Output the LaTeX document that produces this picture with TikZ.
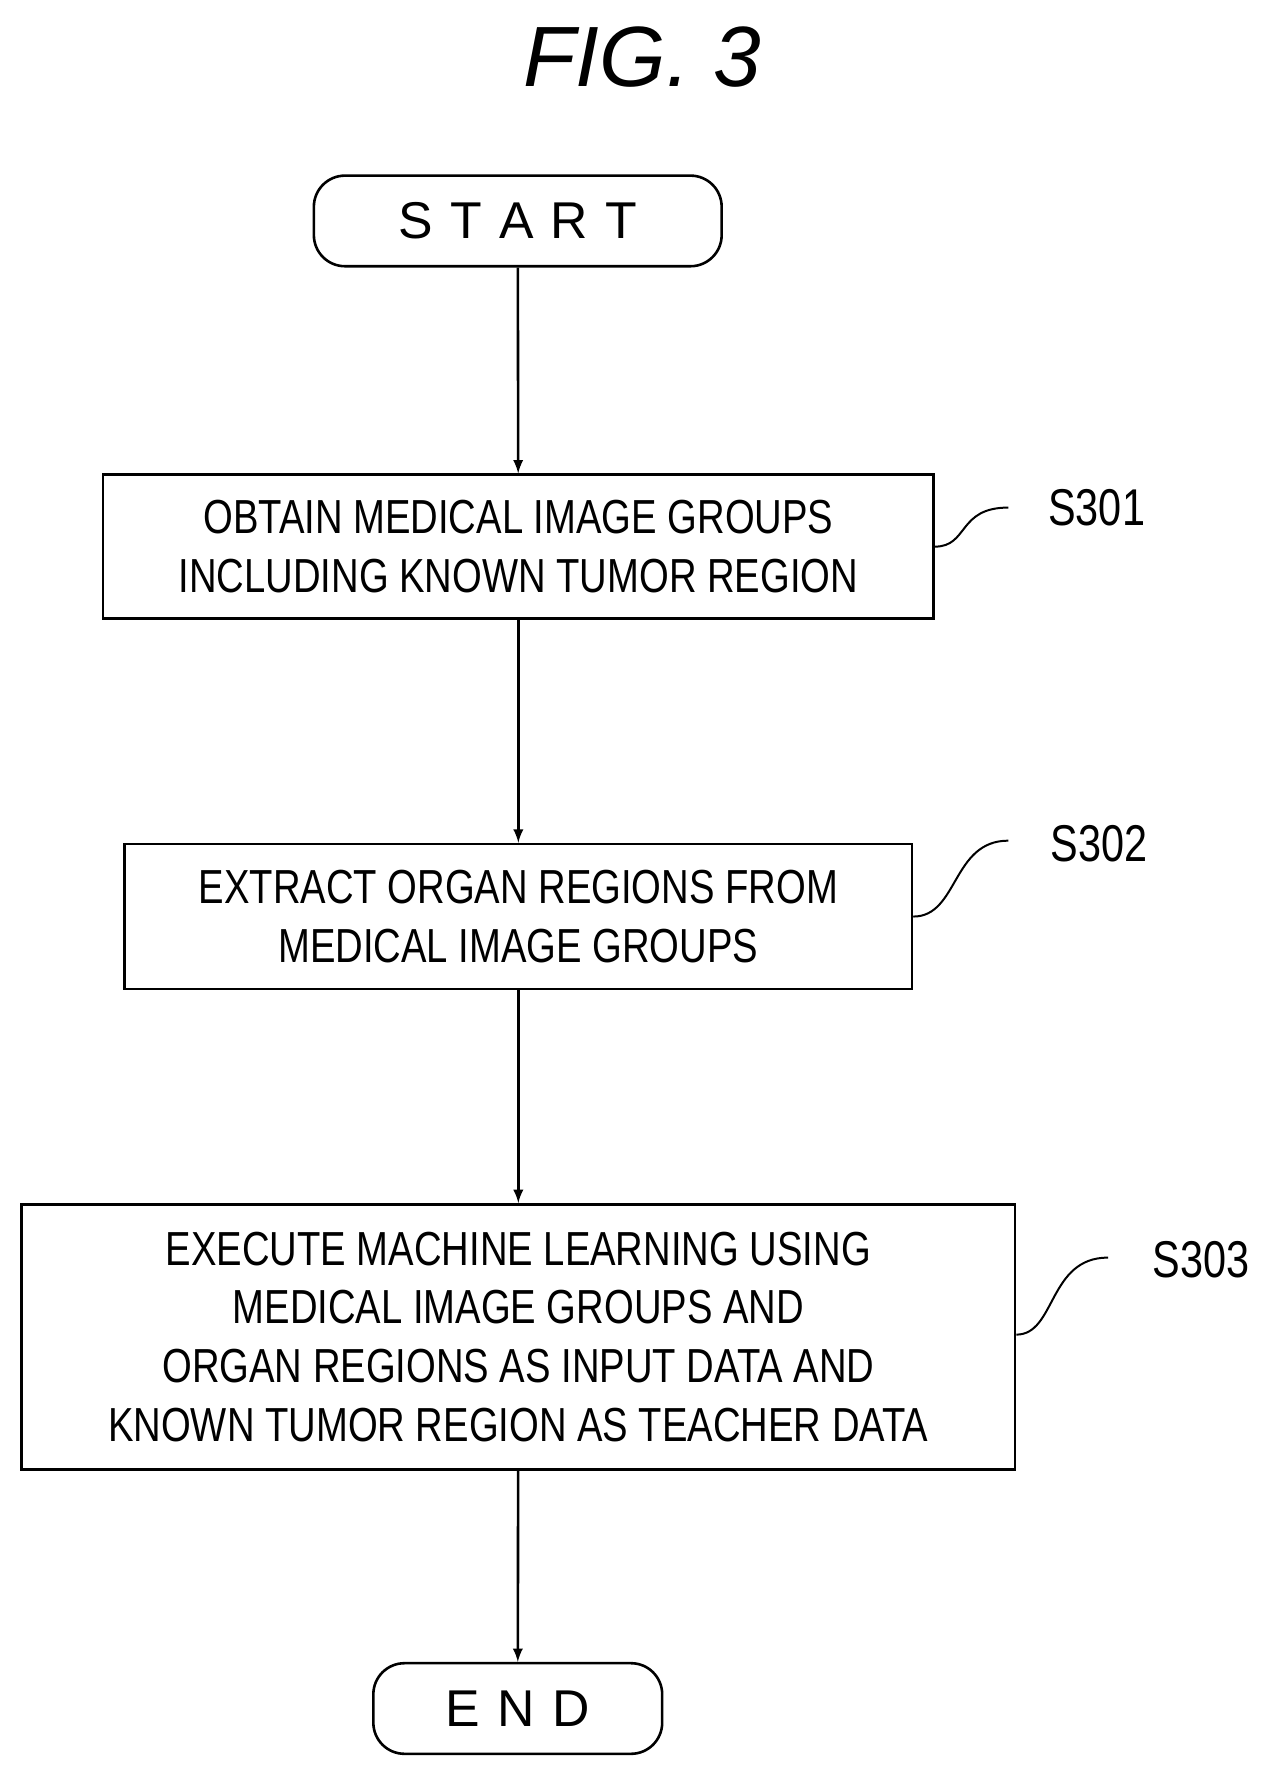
\documentclass[tikz,border=0pt]{standalone}
\usepackage{fontspec}
\setmainfont{Liberation Sans}[FakeStretch=0.8]
\newfontfamily\figfont{Liberation Sans}
\usetikzlibrary{positioning}

\begin{document}
\begin{tikzpicture}[x=0.02cm,y=-0.02cm,
    proc/.style={draw, line width=1.3pt, align=center, font=\fontsize{24}{29.5}\selectfont, inner sep=0pt},
    term/.style={draw, line width=1.3pt, rounded corners=0.55cm, font=\figfont\fontsize{26}{30}\selectfont, inner sep=0pt},
    flow/.style={-latex, line width=1.3pt},
    tag/.style={font=\fontsize{26}{30}\selectfont}]
 \useasboundingbox (0,0) rectangle (1130,1572);

 % title
 \node[font=\figfont\itshape\fontsize{43}{50}\selectfont] (title) at (567,50) {FIG. 3};

 % terminals
 \node[term, minimum width=7.2cm, minimum height=1.6cm] (start) at (457,195) {S\,\,T\,\,A\,\,R\,\,T};
 \node[term, minimum width=5.1cm, minimum height=1.6cm] (end) at (457,1508) {E\,\,N\,\,D};

 % steps
 \node[proc, minimum width=14.66cm, minimum height=2.54cm] (obtain) at (457.5,482.5)
    {OBTAIN MEDICAL IMAGE GROUPS\\INCLUDING KNOWN TUMOR REGION};
 \node[proc, minimum width=13.9cm, minimum height=2.56cm] (extract) at (457.5,809)
    {EXTRACT ORGAN REGIONS FROM\\MEDICAL IMAGE GROUPS};
 \node[proc, minimum width=17.54cm, minimum height=4.68cm] (learn) at (457.5,1180)
    {EXECUTE MACHINE LEARNING USING\\MEDICAL IMAGE GROUPS AND\\ORGAN REGIONS AS INPUT DATA AND\\KNOWN TUMOR REGION AS TEACHER DATA};

 % arrows
 \draw[flow] (start) -- (obtain);
 \draw[flow] (obtain) -- (extract);
 \draw[flow] (extract) -- (learn);
 \draw[flow] (learn) -- (end);

 % step labels
 \node[tag] (s301) at (968,448) {S301};
 \node[tag] (s302) at (970,745) {S302};
 \node[tag] (s303) at (1060,1112) {S303};
 \draw[line width=1pt] (obtain.east) .. controls +(30,0) and (845,448) .. (890,448);
 \draw[line width=1pt] (extract.east) .. controls +(40,0) and (840,742) .. (890,742);
 \draw[line width=1pt] (learn.east) ++(0,-2) .. controls +(35,0) and (925,1110) .. (978,1110);
\end{tikzpicture}
\end{document}
